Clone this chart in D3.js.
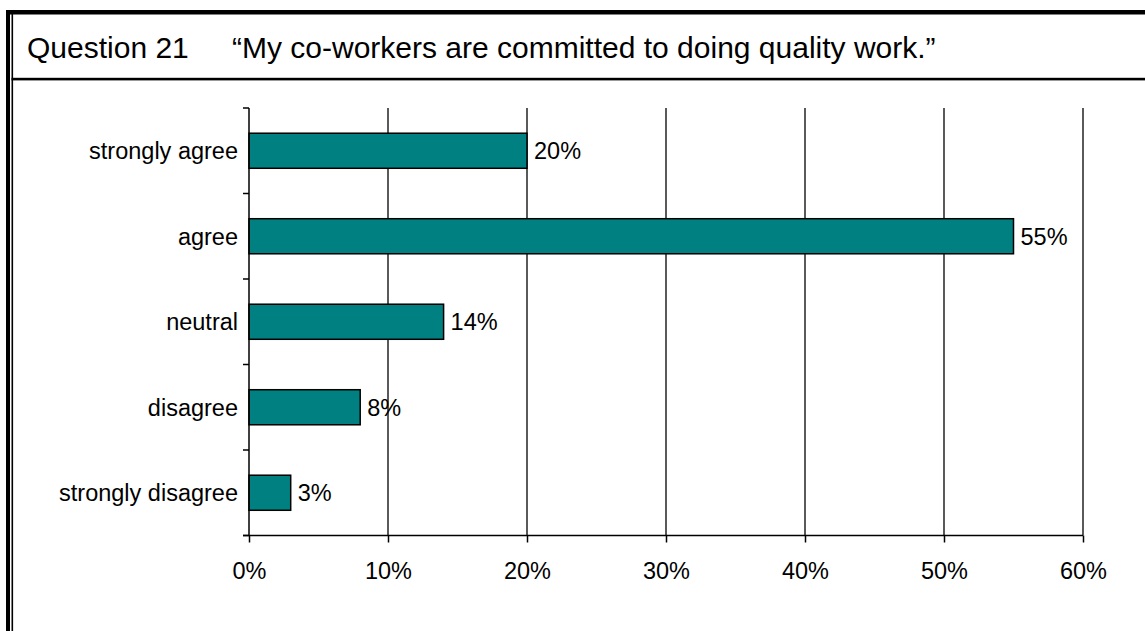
<!DOCTYPE html>
<html>
<head>
<meta charset="utf-8">
<script src="https://cdn.jsdelivr.net/npm/d3@7"></script>
<style>
  html, body { margin: 0; padding: 0; background: #fff; }
  svg { display: block; font-family: "Liberation Sans", Arial, sans-serif; }
</style>
</head>
<body>
<svg id="chart" width="1145" height="631"></svg>
<script>
// Survey responses, percent of respondents
const categories = ["strongly agree", "agree", "neutral", "disagree", "strongly disagree"];
const values = [20, 55, 14, 8, 3];
const xTicks = [0, 10, 20, 30, 40, 50, 60];
const questionLabel = "Question 21";
const questionText = "\u201CMy co-workers are committed to doing quality work.\u201D";

const svg = d3.select("#chart");
const W = 1145, H = 631;

svg.append("rect").attr("width", W).attr("height", H).attr("fill", "#fff");

// Slide frame: thick top rule, double rule on the left, separator under the heading
svg.append("rect").attr("x", 6).attr("y", 10).attr("width", W - 6).attr("height", 4.5).attr("fill", "#000");
svg.append("rect").attr("x", 6).attr("y", 10).attr("width", 4).attr("height", H - 10).attr("fill", "#000");
svg.append("rect").attr("x", 11.5).attr("y", 14).attr("width", 1.6).attr("height", H - 14).attr("fill", "#000");
svg.append("rect").attr("x", 11.5).attr("y", 77.8).attr("width", W - 11.5).attr("height", 2.6).attr("fill", "#000");

// Heading
svg.append("text").attr("x", 27).attr("y", 58)
  .attr("font-size", 30).attr("fill", "#000").text(questionLabel);
svg.append("text").attr("x", 232).attr("y", 58)
  .attr("font-size", 30).attr("fill", "#000").text(questionText);

// Plot area
const plot = { left: 249, right: 1083, top: 108, bottom: 535.5 };

const x = d3.scaleLinear().domain([0, 60]).range([plot.left, plot.right]);
const y = d3.scaleBand().domain(categories).range([plot.top, plot.bottom])
  .paddingInner(0.59).paddingOuter(0.295);

const fontSize = 23.5;

// Vertical gridlines
svg.append("g").selectAll("line").data(xTicks.filter(d => d > 0)).join("line")
  .attr("x1", d => x(d)).attr("x2", d => x(d))
  .attr("y1", plot.top).attr("y2", plot.bottom)
  .attr("stroke", "#000").attr("stroke-width", 1.3);

// Bars
svg.append("g").selectAll("rect").data(categories).join("rect")
  .attr("x", x(0))
  .attr("y", d => y(d))
  .attr("width", (d, i) => x(values[i]) - x(0))
  .attr("height", y.bandwidth())
  .attr("fill", "#008080")
  .attr("stroke", "#000").attr("stroke-width", 1.5);

// Value labels
svg.append("g").selectAll("text").data(categories).join("text")
  .attr("x", (d, i) => x(values[i]) + 7)
  .attr("y", d => y(d) + y.bandwidth() / 2)
  .attr("dy", "0.36em")
  .attr("font-size", fontSize).attr("fill", "#000")
  .text((d, i) => values[i] + "%");

// Category axis (ticks between bands)
const yAxis = svg.append("g");
const bandEdges = d3.range(categories.length + 1).map(i => plot.top + i * y.step());
yAxis.append("line")
  .attr("x1", plot.left).attr("x2", plot.left)
  .attr("y1", plot.top).attr("y2", plot.bottom)
  .attr("stroke", "#000").attr("stroke-width", 1.5);
yAxis.selectAll("line.tick").data(bandEdges).join("line").attr("class", "tick")
  .attr("x1", plot.left - 6).attr("x2", plot.left)
  .attr("y1", d => d).attr("y2", d => d)
  .attr("stroke", "#000").attr("stroke-width", 1.5);
yAxis.selectAll("text").data(categories).join("text")
  .attr("x", plot.left - 11)
  .attr("y", d => y(d) + y.bandwidth() / 2)
  .attr("dy", "0.36em")
  .attr("text-anchor", "end")
  .attr("font-size", fontSize).attr("fill", "#000")
  .text(d => d);

// Value axis along the bottom
const xAxis = d3.axisBottom(x).tickValues(xTicks).tickSize(7).tickPadding(20)
  .tickFormat(d => d + "%");
const gx = svg.append("g").attr("transform", `translate(0,${plot.bottom})`).call(xAxis);
gx.select(".domain").remove();
gx.append("line").attr("x1", plot.left - 6).attr("x2", plot.right)
  .attr("stroke", "#000").attr("stroke-width", 1.5);
gx.selectAll(".tick line").attr("stroke", "#000").attr("stroke-width", 1.5);
gx.selectAll(".tick text")
  .attr("font-family", "\"Liberation Sans\", Arial, sans-serif")
  .attr("font-size", fontSize).attr("fill", "#000");
</script>
</body>
</html>
